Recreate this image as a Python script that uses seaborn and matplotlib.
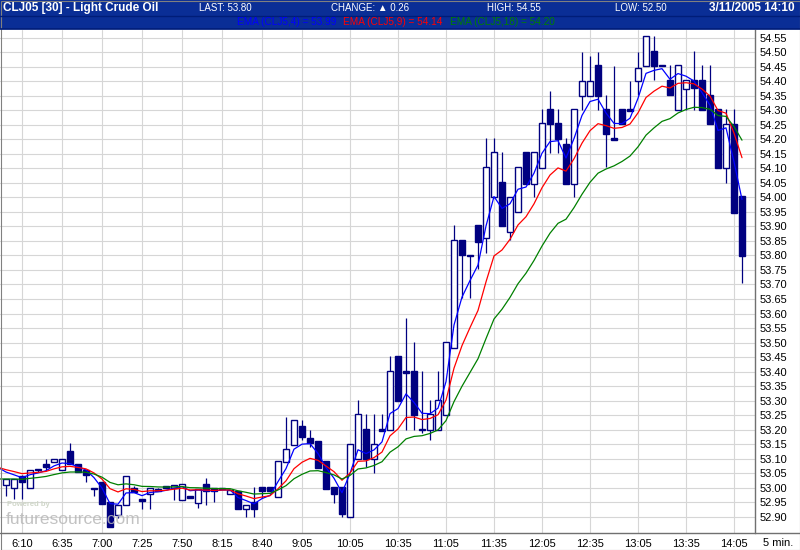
import matplotlib
matplotlib.use("Agg")
import matplotlib.pyplot as plt
import numpy as np
import pandas as pd
import seaborn as sns

# 5-minute bars, CLJ05
opens = [53.01, 53.00, 53.04, 53.00, 53.065, 53.08, 53.09, 53.06, 53.125, 53.08,
         53.06, 53.00, 53.02, 52.95, 52.905, 52.94, 53.00, 52.96, 52.977, 52.995,
         53.006, 52.999, 52.957, 52.97, 52.946, 53.012, 53.00, 52.998, 52.978, 52.99,
         52.927, 52.952, 53.004, 53.004, 52.967, 53.088, 53.146, 53.212, 53.171, 53.161,
         53.092, 53.003, 53.003, 52.898, 53.098, 53.202, 53.098, 53.201, 53.199, 53.453,
         53.40, 53.402, 53.201, 53.199, 53.199, 53.25, 53.48, 53.853, 53.80, 53.905,
         53.859, 54.002, 54.054, 53.882, 53.95, 54.155, 54.047, 54.10, 54.303, 54.255,
         54.183, 54.046, 54.35, 54.35, 54.456, 54.303, 54.203, 54.303, 54.303, 54.402,
         54.453, 54.504, 54.456, 54.404, 54.301, 54.372, 54.404, 54.404, 54.353, 54.303,
         54.10, 54.253, 54.005]
highs = [53.03, 53.03, 53.045, 53.06, 53.065, 53.10, 53.10, 53.10, 53.153, 53.08,
         53.06, 53.00, 53.02, 52.95, 52.94, 53.04, 53.005, 52.96, 53.00, 53.00,
         53.006, 53.01, 53.012, 52.97, 52.996, 53.033, 53.00, 52.998, 52.993, 52.99,
         52.94, 53.004, 53.004, 53.004, 53.092, 53.242, 53.233, 53.233, 53.198, 53.161,
         53.092, 53.003, 53.003, 53.149, 53.302, 53.253, 53.253, 53.253, 53.453, 53.453,
         53.586, 53.503, 53.402, 53.302, 53.402, 53.502, 53.905, 53.853, 53.80, 53.905,
         54.203, 54.203, 54.155, 54.002, 54.103, 54.155, 54.155, 54.303, 54.366, 54.303,
         54.203, 54.303, 54.502, 54.487, 54.502, 54.352, 54.452, 54.303, 54.402, 54.502,
         54.556, 54.556, 54.456, 54.456, 54.456, 54.404, 54.504, 54.456, 54.456, 54.303,
         54.303, 54.303, 54.005]
lows = [52.97, 52.96, 52.96, 53.00, 53.055, 53.06, 53.09, 53.06, 53.08, 53.055,
        53.02, 52.97, 52.945, 52.865, 52.895, 52.94, 52.985, 52.925, 52.925, 52.99,
        52.998, 52.957, 52.957, 52.968, 52.93, 52.94, 52.95, 52.997, 52.978, 52.927,
        52.90, 52.90, 52.963, 52.99, 52.967, 53.088, 53.146, 53.164, 53.139, 53.067,
        52.997, 52.946, 52.90, 52.898, 53.098, 53.072, 53.05, 53.195, 53.199, 53.298,
        53.199, 53.199, 53.19, 53.164, 53.199, 53.25, 53.48, 53.652, 53.652, 53.752,
        53.807, 54.002, 53.901, 53.853, 53.95, 54.047, 54.002, 54.10, 54.154, 54.154,
        54.046, 54.002, 54.30, 54.35, 54.30, 54.103, 54.201, 54.252, 54.301, 54.352,
        54.453, 54.404, 54.452, 54.352, 54.301, 54.301, 54.301, 54.301, 54.252, 54.10,
        54.048, 53.947, 53.704]
closes = [53.03, 53.03, 53.02, 53.06, 53.06, 53.07, 53.10, 53.10, 53.08, 53.055,
          53.045, 52.995, 52.945, 52.865, 52.94, 53.04, 52.985, 52.957, 53.00, 52.99,
          52.998, 53.01, 53.012, 52.968, 52.996, 52.987, 52.987, 52.997, 52.993, 52.927,
          52.94, 52.927, 52.99, 52.99, 53.092, 53.133, 53.233, 53.176, 53.155, 53.067,
          52.997, 52.977, 52.908, 53.149, 53.253, 53.098, 53.149, 53.199, 53.402, 53.298,
          53.399, 53.25, 53.20, 53.253, 53.302, 53.502, 53.853, 53.801, 53.799, 53.847,
          54.103, 54.155, 53.901, 54.002, 54.103, 54.047, 54.155, 54.255, 54.252, 54.20,
          54.046, 54.303, 54.402, 54.402, 54.35, 54.22, 54.201, 54.252, 54.301, 54.444,
          54.556, 54.453, 54.452, 54.352, 54.456, 54.404, 54.376, 54.301, 54.252, 54.10,
          54.253, 53.947, 53.798]

# EMA values carried in from before the first visible bar
ema_seeds = {4: 53.07, 9: 53.07, 18: 53.03}
ema_colors = {4: "#0000ff", 9: "#ff0000", 18: "#008000"}

time_labels = ["6:10", "6:35", "7:00", "7:25", "7:50", "8:15", "8:40", "9:05",
               "10:05", "10:35", "11:05", "11:35", "12:05", "12:35", "13:05", "13:35", "14:05"]
time_label_bars = [2, 7, 12, 17, 22, 27, 32, 37, 43, 49, 55, 61, 67, 73, 79, 85, 91]
price_ticks = [round(52.90 + 0.05 * k, 2) for k in range(34)]

navy = "#000080"
grid_c = "#d6d6d6"
hdr = "#0a2e96"
hdr_dark = "#001d78"

sns.set_style("white")
plt.rcParams["font.family"] = ["Liberation Sans", "DejaVu Sans"]

W, H = 800, 550
fig = plt.figure(figsize=(8, 5.5), dpi=100)
ax = fig.add_axes([0, 17 / H, 755 / W, 503 / H])

bars = pd.DataFrame({"o": opens, "h": highs, "l": lows, "c": closes})
bars["x"] = np.arange(len(bars))

# wicks
ax.vlines(bars["x"], bars["l"], bars["h"], color=navy, linewidth=0.9, zorder=2)

# bodies
body_lo = np.minimum(bars["o"], bars["c"])
body_h = (bars["o"] - bars["c"]).abs()
small = body_h < 0.007
body_lo = np.where(small, (bars["o"] + bars["c"]) / 2 - 0.003, body_lo)
body_h = np.where(small, 0.006, body_h)
faces = np.where((bars["c"] <= bars["o"]) | small, navy, "white")
ax.bar(bars["x"], body_h, bottom=body_lo, width=0.72, color=faces,
       edgecolor=navy, linewidth=1.0, zorder=3)

# EMA lines
for n, seed in ema_seeds.items():
    s = pd.Series([seed] + closes).ewm(span=n, adjust=False).mean()
    d = pd.DataFrame({"x": np.arange(-1, len(closes)), "ema": s.values})
    sns.lineplot(data=d, x="x", y="ema", ax=ax, color=ema_colors[n],
                 linewidth=0.9, zorder=4, legend=False)

ax.set_xlim(-0.75, 93.625)
ax.set_ylim(52.844, 54.5765)

ax.set_yticks(price_ticks)
ax.set_yticklabels([f"{p:.2f}" for p in price_ticks])
ax.yaxis.tick_right()
ax.set_xticks(time_label_bars)
ax.set_xticklabels(time_labels)
ax.tick_params(axis="both", length=0, labelsize=8, colors="black")
ax.tick_params(axis="y", pad=3)
ax.tick_params(axis="x", pad=4)
ax.set_xlabel("")
ax.set_ylabel("")
ax.grid(True, color=grid_c, linewidth=0.8)
ax.set_axisbelow(True)
for side in ["top", "left"]:
    ax.spines[side].set_visible(False)
ax.spines["right"].set_color("#707070")
ax.spines["bottom"].set_visible(False)
ax.spines["right"].set_linewidth(1.0)

# frame lines and header
fig.add_artist(plt.Line2D([0, 1], [17 / H, 17 / H], color="#707070", linewidth=1.0))
fig.add_artist(plt.Rectangle((0, 1 - 16 / H), 1, 16 / H, color=hdr, zorder=0))
fig.add_artist(plt.Rectangle((0, 1 - 28 / H), 1, 12 / H, color=hdr, zorder=0))
fig.add_artist(plt.Line2D([0, 1], [1 - 16 / H, 1 - 16 / H], color=hdr_dark, linewidth=1.0))
fig.add_artist(plt.Line2D([0, 1], [1 - 28.5 / H, 1 - 28.5 / H], color=hdr_dark, linewidth=1.2))
fig.add_artist(plt.Rectangle((0.5 / W, 0.5 / H), 1 - 1 / W, 1 - 1 / H, fill=False,
                             edgecolor="#808080", linewidth=0.8))

narrow = ["Liberation Sans Narrow", "Liberation Sans", "DejaVu Sans"]
y1 = 1 - 8 / H
fig.text(3 / W, y1, "CLJ05 [30] - Light Crude Oil", color="white", fontsize=8.5,
         fontweight="bold", family=narrow, va="center", ha="left")
fig.text(199 / W, y1, "LAST: 53.80", color="white", fontsize=7, family=narrow,
         va="center", ha="left")
fig.text(331 / W, y1, "CHANGE: \u25b2 0.26", color="white", fontsize=7,
         family=narrow, va="center", ha="left")
fig.text(487 / W, y1, "HIGH: 54.55", color="white", fontsize=7, family=narrow,
         va="center", ha="left")
fig.text(615 / W, y1, "LOW: 52.50", color="white", fontsize=7, family=narrow,
         va="center", ha="left")
fig.text(795 / W, y1, "3/11/2005 14:10", color="white", fontsize=8.5, fontweight="bold",
         family=narrow, va="center", ha="right")

y2 = 1 - 22 / H
fig.text(237 / W, y2, "EMA (CLJ5,4) = 53.99", color="#0000ff", fontsize=7.2,
         family=narrow, va="center", ha="left")
fig.text(343 / W, y2, "EMA (CLJ5,9) = 54.14", color="#ff0000", fontsize=7.2,
         family=narrow, va="center", ha="left")
fig.text(450 / W, y2, "EMA (CLJ5,18) = 54.20", color="#008000", fontsize=7.2,
         family=narrow, va="center", ha="left")

fig.text(763 / W, 1 - 543 / H, "5 min.", color="black", fontsize=8, va="center", ha="left")

# watermark
fig.text(7 / W, 1 - 505 / H, "Powered by", color="#cfd6c8", fontsize=5.5,
         fontweight="bold", va="center", ha="left", zorder=5)
fig.text(6 / W, 1 - 520 / H, "futuresource.com", color="#b8b8b8", fontsize=12.5,
         va="center", ha="left", alpha=0.85, zorder=5)

fig.savefig("out.png", dpi=100)
